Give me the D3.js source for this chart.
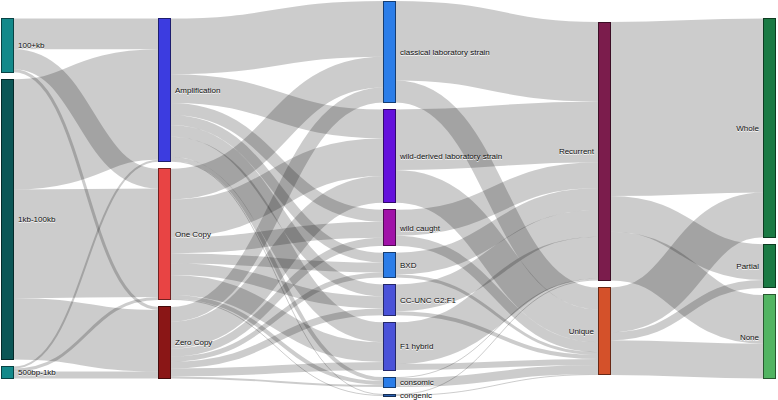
<!DOCTYPE html>
<html>
<head>
<meta charset="utf-8">
<script src="https://cdn.jsdelivr.net/npm/d3@7"></script>
<style>
body { margin: 0; background: #fff; }
.node rect { shape-rendering: crispEdges; }
.node text { font: 8px "Liberation Sans", Arial, sans-serif; fill: #111; text-shadow: 0 1px 0 #fff; pointer-events: none; }
.link { fill: none; stroke: #000; stroke-opacity: .2; }
</style>
</head>
<body>
<div id="chart"></div>
<script>
// Node names, one list per column
var sizeNames = ['100+kb', '1kb-100kb', '500bp-1kb'];
var copyNames = ['Amplification', 'One Copy', 'Zero Copy'];
var strainNames = ['classical laboratory strain', 'wild-derived laboratory strain', 'wild caught', 'BXD',
    'CC-UNC G2:F1', 'F1 hybrid', 'consomic', 'congenic'];
var recurrenceNames = ['Recurrent', 'Unique'];
var overlapNames = ['Whole', 'Partial', 'None'];

// Flow values (rows = source node, columns = target node)
var sizeToCopy = [
    [31, 20, 3],
    [111, 109, 62],
    [2, 3, 7]
];
var copyToStrain = [
    [56, 29, 12, 10, 12, 20, 4, 1],
    [31, 38, 16, 10, 12, 20, 4, 1],
    [15, 27, 8, 5, 7, 8, 2, 0]
];
var strainToRecurrence = [
    [80, 22],
    [61, 33],
    [26, 10],
    [22, 3],
    [27, 4],
    [42, 6],
    [1, 9],
    [1, 1]
];
var recurrenceToOverlap = [
    [175, 36, 49],
    [45, 8, 35]
];

// Node colours
var nodeColors = {
    '100+kb': '#13898a', '1kb-100kb': '#0b5656', '500bp-1kb': '#13898a',
    'Amplification': '#3c3ce0', 'One Copy': '#e84444', 'Zero Copy': '#8a1616',
    'classical laboratory strain': '#2b7de8', 'wild-derived laboratory strain': '#6410dc',
    'wild caught': '#a012a8', 'BXD': '#2b7de8', 'CC-UNC G2:F1': '#4a52d8', 'F1 hybrid': '#4a52d8',
    'consomic': '#2b7de8', 'congenic': '#2a5fb0',
    'Recurrent': '#7b1c4c', 'Unique': '#d4512a',
    'Whole': '#1b7a44', 'Partial': '#1b7a44', 'None': '#52b462'
};

var svgWidth = 778, svgHeight = 400;
var margin = {top: 1, bottom: 4};
var height = svgHeight - margin.top - margin.bottom;
var nodeWidth = 12, nodePadding = 7;

// columns are not evenly spaced in the original
var xScale = d3.scaleLinear()
    .domain([0, 1, 2, 3, 4])
    .range([1.5, 158.5, 383.5, 598.5, 763.5]);

// Build nodes and links
var columns = [sizeNames, copyNames, strainNames, recurrenceNames, overlapNames];
var matrices = [sizeToCopy, copyToStrain, strainToRecurrence, recurrenceToOverlap];
var nodes = [], links = [];
var byColumn = columns.map(function(names, c) {
    return names.map(function(name) {
        var n = {name: name, column: c, sourceLinks: [], targetLinks: [], value: 0};
        nodes.push(n);
        return n;
    });
});
matrices.forEach(function(m, c) {
    m.forEach(function(row, i) {
        row.forEach(function(v, j) {
            if (!v) return;
            var l = {source: byColumn[c][i], target: byColumn[c + 1][j], value: v};
            l.source.sourceLinks.push(l);
            l.target.targetLinks.push(l);
            links.push(l);
        });
    });
});
nodes.forEach(function(n) {
    n.value = Math.max(d3.sum(n.sourceLinks, function(l) { return l.value; }),
                       d3.sum(n.targetLinks, function(l) { return l.value; }));
});

// value -> pixels, fixed by the most crowded column
var ky = d3.min(byColumn, function(col) {
    return (height - (col.length - 1) * nodePadding) / d3.sum(col, function(n) { return n.value; });
});
var yScale = d3.scaleLinear().domain([0, 1]).range([0, ky]);

// stack every column, centred vertically
byColumn.forEach(function(col) {
    var total = d3.sum(col, function(n) { return yScale(n.value); }) + (col.length - 1) * nodePadding;
    var y0 = (height - total) / 2;
    col.forEach(function(n) {
        n.dy = yScale(n.value);
        n.y = y0;
        y0 += n.dy + nodePadding;
    });
});
links.forEach(function(l) { l.dy = yScale(l.value); });

// link offsets inside each node
nodes.forEach(function(n) {
    n.sourceLinks.sort(function(a, b) { return a.target.y - b.target.y; });
    n.targetLinks.sort(function(a, b) { return a.source.y - b.source.y; });
    var sy = 0, ty = 0;
    n.sourceLinks.forEach(function(l) { l.sy = sy; sy += l.dy; });
    n.targetLinks.forEach(function(l) { l.ty = ty; ty += l.dy; });
});

function linkPath(l) {
    var x0 = xScale(l.source.column) + nodeWidth,
        x1 = xScale(l.target.column),
        xi = d3.interpolateNumber(x0, x1),
        x2 = xi(.5), x3 = xi(.5),
        y0 = margin.top + l.source.y + l.sy + l.dy / 2,
        y1 = margin.top + l.target.y + l.ty + l.dy / 2;
    return 'M' + x0 + ',' + y0 + 'C' + x2 + ',' + y0 + ' ' + x3 + ',' + y1 + ' ' + x1 + ',' + y1;
}

var svg = d3.select('#chart').append('svg')
    .attr('width', svgWidth)
    .attr('height', svgHeight);

svg.append('g').selectAll('path')
    .data(links)
    .enter().append('path')
        .attr('class', 'link')
        .attr('d', linkPath)
        .style('stroke-width', function(d) { return Math.max(1, d.dy); });

var node = svg.append('g').selectAll('g')
    .data(nodes)
    .enter().append('g')
        .attr('class', 'node')
        .attr('transform', function(d) { return 'translate(' + xScale(d.column) + ',' + (margin.top + d.y) + ')'; });

node.append('rect')
    .attr('height', function(d) { return Math.max(1, d.dy); })
    .attr('width', nodeWidth)
    .style('fill', function(d) { return nodeColors[d.name]; })
    .style('stroke', function(d) { return d3.rgb(nodeColors[d.name]).darker(2); });

node.append('text')
    .attr('x', function(d) { return d.column < 3 ? nodeWidth + 4.5 : -4.5; })
    .attr('y', function(d) { return d.dy / 2; })
    .attr('dy', '.35em')
    .attr('text-anchor', function(d) { return d.column < 3 ? 'start' : 'end'; })
    .text(function(d) { return d.name; });
</script>
</body>
</html>
